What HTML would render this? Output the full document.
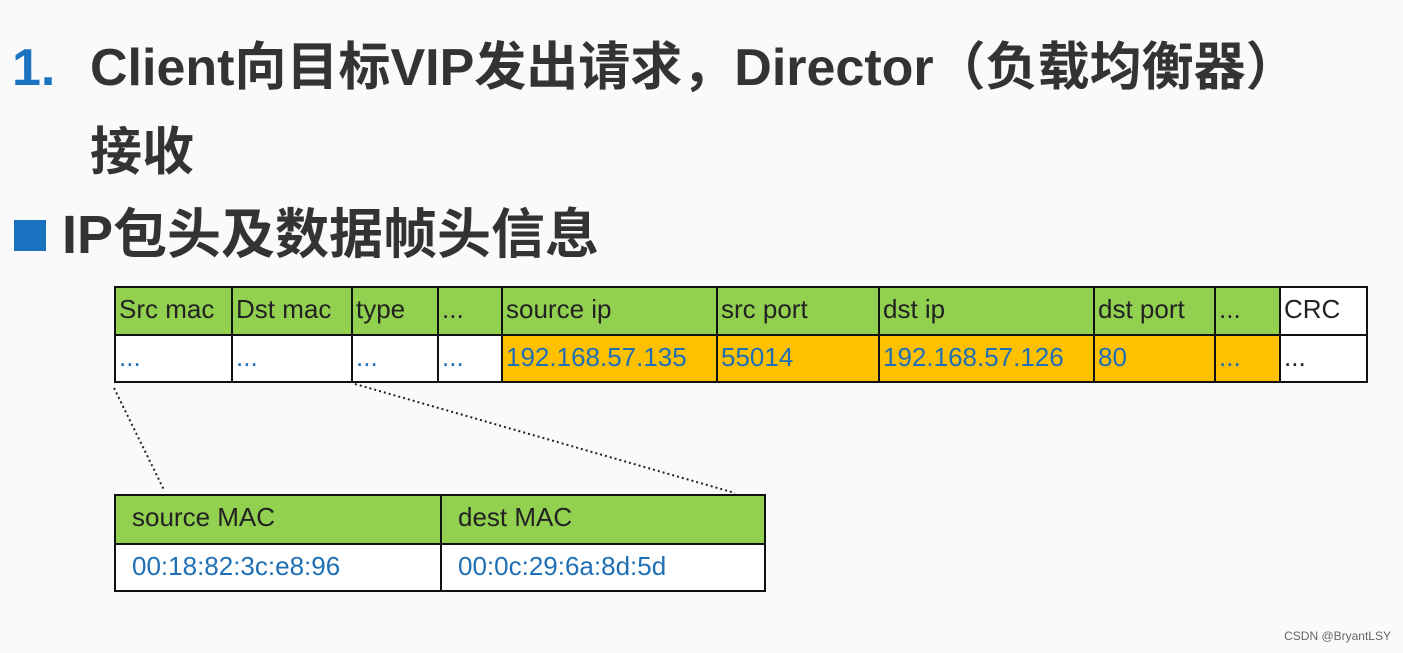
<!DOCTYPE html>
<html><head><meta charset="utf-8"><style>
body{margin:0;width:1403px;height:653px;background:#fafafa;position:relative;overflow:hidden;font-family:"Liberation Sans","Noto Sans CJK SC",sans-serif}
.t{position:absolute;font-weight:bold;color:#333;font-size:52px;white-space:nowrap;line-height:1}
.c{position:absolute;box-sizing:border-box;border:2px solid #111;font-size:26px;line-height:42px;padding-left:3px;white-space:nowrap;overflow:hidden;color:#222;font-family:"Liberation Sans Narrow","Liberation Sans",sans-serif}
.g{background:#92d050}.o{background:#ffc000;color:#1f6fb5}.w{background:#fff;color:#1f6fb5}
</style></head><body>
<div class="t" style="left:12px;top:42px;color:#1a73c0">1.</div>
<div class="t" style="left:90px;top:42px">Client向目标VIP发出请求，Director（负载均衡器）</div>
<div class="t" style="left:90px;top:127px">接收</div>
<div style="position:absolute;left:14px;top:220px;width:32px;height:31px;background:#1a73c0"></div>
<div class="t" style="left:62px;top:208px;font-size:54px">IP包头及数据帧头信息</div>
<div id="tb"></div>
<script>
var xs=[114,231,351,437,501,716,878,1093,1214,1279,1366];
var h=["Src mac","Dst mac","type","...","source  ip","src port","dst  ip","dst port","...","CRC"];
var v=["...","...","...","...","192.168.57.135","55014","192.168.57.126","80","...","..."];
var s="";
for(var i=0;i<10;i++){
 var w=xs[i+1]-xs[i]+2;
 var hc=i==9?"w":"g";
 s+='<div class="c '+hc+'" style="left:'+xs[i]+'px;top:286px;width:'+w+'px;height:50px;'+(i==9?'color:#222;':'')+'">'+h[i]+'</div>';
 var vc=(i>=4&&i<=8)?"o":"w";
 s+='<div class="c '+vc+'" style="left:'+xs[i]+'px;top:334px;width:'+w+'px;height:49px;'+(i==9?'color:#222;':'')+'">'+v[i]+'</div>';
}
s+='<div class="c g" style="left:114px;top:494px;width:328px;height:51px;padding-left:16px">source MAC</div>';
s+='<div class="c g" style="left:440px;top:494px;width:326px;height:51px;padding-left:16px">dest MAC</div>';
s+='<div class="c w" style="left:114px;top:543px;width:328px;height:49px;padding-left:16px">00:18:82:3c:e8:96</div>';
s+='<div class="c w" style="left:440px;top:543px;width:326px;height:49px;padding-left:16px">00:0c:29:6a:8d:5d</div>';
document.getElementById("tb").innerHTML=s;
</script>
<svg style="position:absolute;left:0;top:0" width="1403" height="653"><g stroke="#222" stroke-width="2" stroke-dasharray="2 3" fill="none"><line x1="114" y1="388" x2="164" y2="490"/><line x1="355" y1="384" x2="735" y2="493"/></g></svg>
<div style="position:absolute;right:12px;bottom:10px;font-size:12px;color:#666">CSDN @BryantLSY</div>
</body></html>
